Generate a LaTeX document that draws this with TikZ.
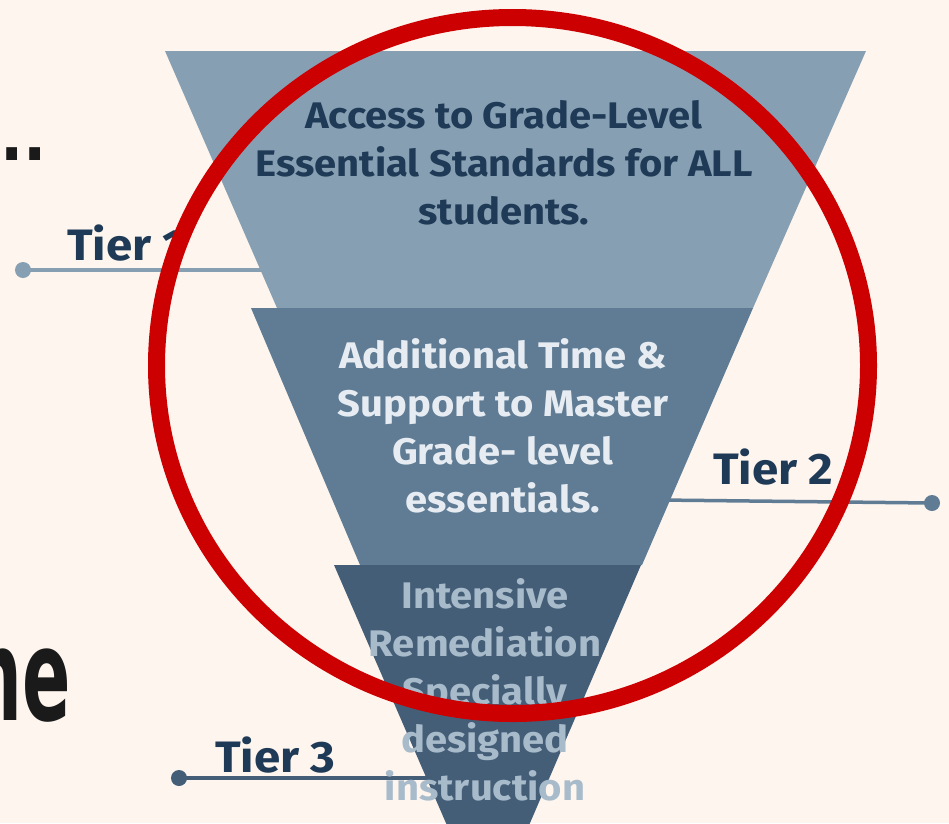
\documentclass[tikz,border=0pt]{standalone}
\usepackage{fontspec}
\setmainfont{Fira Sans}
\newfontfamily\labelfont[FakeStretch=1.08]{Fira Sans}
\newfontfamily\heavyfont{DejaVu Sans Condensed}
\definecolor{paper}{HTML}{FDF5EE}
\definecolor{tierone}{HTML}{879FB3}
\definecolor{tiertwo}{HTML}{5F7C94}
\definecolor{tierthree}{HTML}{455E77}
\definecolor{navy}{HTML}{1F3A56}
\definecolor{palefg}{HTML}{E6ECF2}
\definecolor{mutedfg}{HTML}{A8BBCB}
\definecolor{alarm}{HTML}{CC0000}
\definecolor{ink}{HTML}{1A1A1A}
\tikzset{
  band/.style={draw=none},
  bandtext/.style={inner sep=0pt, align=center, font=\labelfont\bfseries\fontsize{37}{48}\selectfont},
  tierlabel/.style={inner sep=0pt, anchor=base west, text=navy, font=\labelfont\bfseries\fontsize{44}{50}\selectfont},
  leader/.style={line width=3.5pt},
  dot/.style={circle, inner sep=0pt, minimum size=16pt}
}
\begin{document}
\begin{tikzpicture}[x=1pt,y=-1pt]
\useasboundingbox (0,0) rectangle (949,823);
\fill[paper] (0,0) rectangle (949,823);

% fragments of heading text cut at the left edge
\node[inner sep=0pt, anchor=base west, text=ink, font=\heavyfont\bfseries\fontsize{68}{68}\selectfont] (dots) at (0,160) {..};
\node[inner sep=0pt, anchor=base east, text=ink] (frag) at (71,720)
  {\scalebox{0.62}[1]{\heavyfont\bfseries\fontsize{128}{128}\selectfont ne}};

% leader lines with end dots (behind the funnel)
\node[dot, fill=tierone] (d1) at (23,270) {};
\coordinate (e1) at (285,270);
\draw[leader, tierone] (d1.center) -- (e1);

\node[dot, fill=tiertwo] (d2) at (932,503) {};
\coordinate (e2) at (660,500);
\draw[leader, tiertwo] (e2) -- (d2.center);

\node[dot, fill=tierthree] (d3) at (179,778) {};
\coordinate (e3) at (440,778);
\draw[leader, tierthree] (d3.center) -- (e3);

% funnel bands
\fill[band, tierone] (165,51) -- (866,51) -- (753,308) -- (277,308) -- cycle;
\fill[band, tiertwo] (251,308) -- (753,308) -- (642,565) -- (360,565) -- cycle;
\fill[band, tierthree] (334,565) -- (641,565) -- (527,830) -- (449,830) -- cycle;

% band texts
\node[bandtext, text=navy] (t1) at (504,163)
  {Access to Grade-Level\\Essential Standards for ALL\\students.};
\node[bandtext, text=palefg] (t2) at (503,426)
  {Additional Time \&\\Support to Master\\Grade- level\\essentials.};
\node[bandtext, text=mutedfg] (t3) at (485,690)
  {Intensive\\Remediation\\Specially\\designed\\instruction};

% tier labels
\node[tierlabel] (l1) at (67,260) {Tier 1};
\node[tierlabel] (l2) at (713,484) {Tier 2};
\node[tierlabel] (l3) at (215,772) {Tier 3};

% highlight ring
\draw[alarm, line width=17pt] (512.5,365.5) ellipse [x radius=356, y radius=348];
\end{tikzpicture}
\end{document}
